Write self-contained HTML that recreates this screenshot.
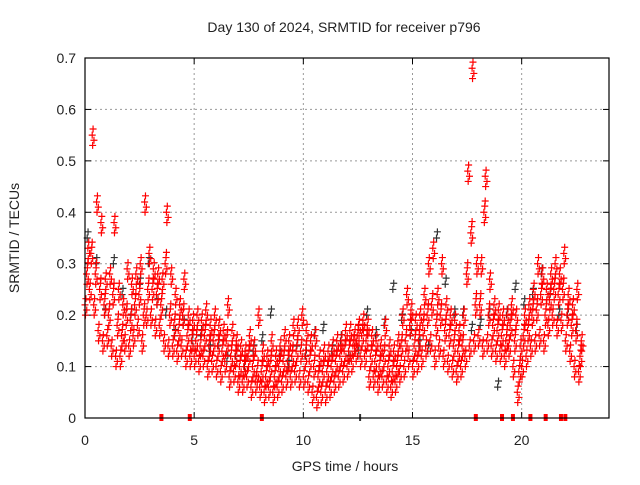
<!DOCTYPE html>
<html><head><meta charset="utf-8"><style>
body{margin:0;background:#fff;}
svg text{font-family:"Liberation Sans",sans-serif;font-size:14px;fill:#222;}
</style></head><body>
<svg id="chart" width="640" height="480">
<text x="344" y="32" text-anchor="middle">Day 130 of 2024, SRMTID for receiver p796</text>
<text x="345" y="471" text-anchor="middle">GPS time / hours</text>
<text transform="translate(19,238) rotate(-90)" text-anchor="middle">SRMTID / TECUs</text>
<g id="grid"></g><g id="marks"></g>
<rect x="85" y="58" width="524" height="360" fill="none" stroke="#000" stroke-width="1.2"/>
</svg>
<script>
const xTicks=[0,5,10,15,20];
const yTicks=[0,0.1,0.2,0.3,0.4,0.5,0.6,0.7];
const redLo=[.22,.25,.22,.17,.15,.16,.14,.12,.12,.15,.14,.16,.18,.15,.2,.2,.18,.18,.15,.14,.14,.13,.14,.12,.12,.12,.11,.12,.1,.11,.1,.09,.11,.08,.09,.07,.07,.08,.06,.07,.06,.05,.06,.05,.06,.07,.08,.08,.09,.08,.08,.07,.05,.04,.05,.05,.06,.07,.08,.09,.1,.11,.13,.12,.12,.08,.08,.07,.08,.07,.06,.07,.09,.1,.12,.1,.11,.12,.14,.15,.12,.14,.12,.11,.1,.09,.1,.12,.14,.15,.16,.14,.15,.14,.13,.13,.12,.14,.1,.05,.1,.12,.14,.15,.16,.15,.18,.2,.18,.19,.15,.13,.1,.09];
const redMid=[.28,.32,.28,.25,.22,.2,.24,.18,.16,.2,.19,.22,.24,.2,.25,.25,.24,.22,.3,.2,.18,.17,.2,.16,.15,.15,.14,.16,.14,.15,.14,.13,.15,.12,.12,.1,.1,.12,.1,.09,.09,.08,.1,.08,.1,.11,.11,.12,.13,.13,.12,.11,.1,.08,.09,.09,.1,.11,.12,.13,.13,.14,.16,.16,.15,.12,.11,.1,.12,.1,.09,.1,.14,.15,.18,.14,.15,.18,.2,.22,.18,.2,.17,.16,.14,.13,.14,.28,.36,.22,.22,.4,.2,.18,.17,.16,.15,.18,.15,.09,.16,.17,.2,.21,.24,.2,.23,.25,.24,.25,.2,.18,.17,.12];
const redHi=[.33,.55,.42,.38,.27,.28,.38,.25,.22,.29,.26,.28,.3,.42,.32,.29,.28,.27,.4,.28,.24,.22,.27,.2,.19,.2,.19,.21,.18,.2,.18,.17,.22,.17,.15,.14,.13,.16,.14,.2,.13,.12,.15,.12,.14,.16,.15,.18,.18,.2,.17,.15,.16,.12,.13,.13,.14,.15,.15,.17,.17,.16,.18,.19,.18,.16,.15,.14,.18,.14,.13,.15,.2,.24,.21,.19,.2,.24,.3,.33,.24,.3,.22,.2,.19,.17,.2,.48,.68,.3,.3,.47,.27,.22,.21,.2,.2,.22,.2,.14,.2,.22,.25,.3,.28,.25,.28,.3,.28,.32,.24,.22,.25,.15];
const blackVals=[.35,.3,.2,.3,.24,.2,.26,.3,.22,.2,.16,.18,.15,.16,.13,.14,.11,.12,.1,.13,.15,.2,.12,.1,.14,.12,.16,.17,.13,.15,.11,.12,.2,.16,.18,.25,.19,.16,.14,.13,.35,.26,.2,.2,.17,.18,.2,.06,.2,.25,.22,.24,.28,.24,.2,.2,.17];
const zeroHours=[3.5,4.8,8.1,17.9,19.1,19.6,20.4,21.1,21.8,22.0];
const zeroBlack=[12.6];
const X=h=>85+h*524/24, Y=v=>418-v*360/0.7;
const NS="http://www.w3.org/2000/svg";
const grid=document.getElementById('grid'), marks=document.getElementById('marks'), svg=document.getElementById('chart');
function ln(p,x1,y1,x2,y2,st,dash){const l=document.createElementNS(NS,'line');l.setAttribute('x1',x1);l.setAttribute('y1',y1);l.setAttribute('x2',x2);l.setAttribute('y2',y2);l.setAttribute('stroke',st);l.setAttribute('stroke-width',1);if(dash)l.setAttribute('stroke-dasharray',dash);p.appendChild(l);return l;}
function tx(x,y,s,a){const t=document.createElementNS(NS,'text');t.setAttribute('x',x);t.setAttribute('y',y);t.setAttribute('text-anchor',a);t.textContent=s;svg.appendChild(t);return t;}
xTicks.forEach(h=>{
 if(h>0){const g=ln(grid,X(h),58,X(h),418,'#999','2,3');
 
 }
 ln(grid,X(h),418,X(h),412,'#000');ln(grid,X(h),58,X(h),64,'#000');
 const t=tx(X(h),445,String(h),'middle');
 
 
});
yTicks.forEach(v=>{
 if(v>0&&v<0.7){const g=ln(grid,85,Y(v),609,Y(v),'#999','2,3');
 
 }
 ln(grid,85,Y(v),91,Y(v),'#000');ln(grid,609,Y(v),603,Y(v),'#000');
 const t=tx(76,Y(v)+5,v===0?'0':v.toFixed(1),'end');
 
 
});
const clusterDh=[0,0.04,0.08,0.02,0.06,0.1];
const clusterDv=[0,0.012,-0.01,-0.02,0.022,0.005];
function plus(h,v,c,name){const p=document.createElementNS(NS,'path');const x=X(h),y=Y(v);
 p.setAttribute('d',`M${x-3.5} ${y}H${x+3.5}M${x} ${y-3.5}V${y+3.5}`);p.setAttribute('stroke',c);p.setAttribute('stroke-width',1.2);
 
 
 marks.appendChild(p);}
function cluster(h,v,c,name,n){for(let k=0;k<n;k++){plus(h+clusterDh[k],Math.max(0.02,v+clusterDv[k]),c,name);}}
blackVals.forEach((v,i)=>cluster(i*0.4+0.1,v,'#333','black-point',2));
redLo.forEach((v,i)=>cluster(i*0.2,v,'#f00','red-point',4));
redMid.forEach((v,i)=>cluster(i*0.2+0.07,v,'#f00','red-point',5));
redHi.forEach((v,i)=>cluster(i*0.2+0.13,v,'#f00','red-point',4));
zeroHours.forEach(h=>{const r=document.createElementNS(NS,'rect');r.setAttribute('x',X(h)-2);r.setAttribute('y',414);r.setAttribute('width',4);r.setAttribute('height',7);r.setAttribute('fill','#f00');
 
 
 marks.appendChild(r);});
zeroBlack.forEach(h=>{const r=document.createElementNS(NS,'rect');r.setAttribute('x',X(h)-1);r.setAttribute('y',414);r.setAttribute('width',2);r.setAttribute('height',7);r.setAttribute('fill','#333');
 
 
 marks.appendChild(r);});
</script>
</body></html>
